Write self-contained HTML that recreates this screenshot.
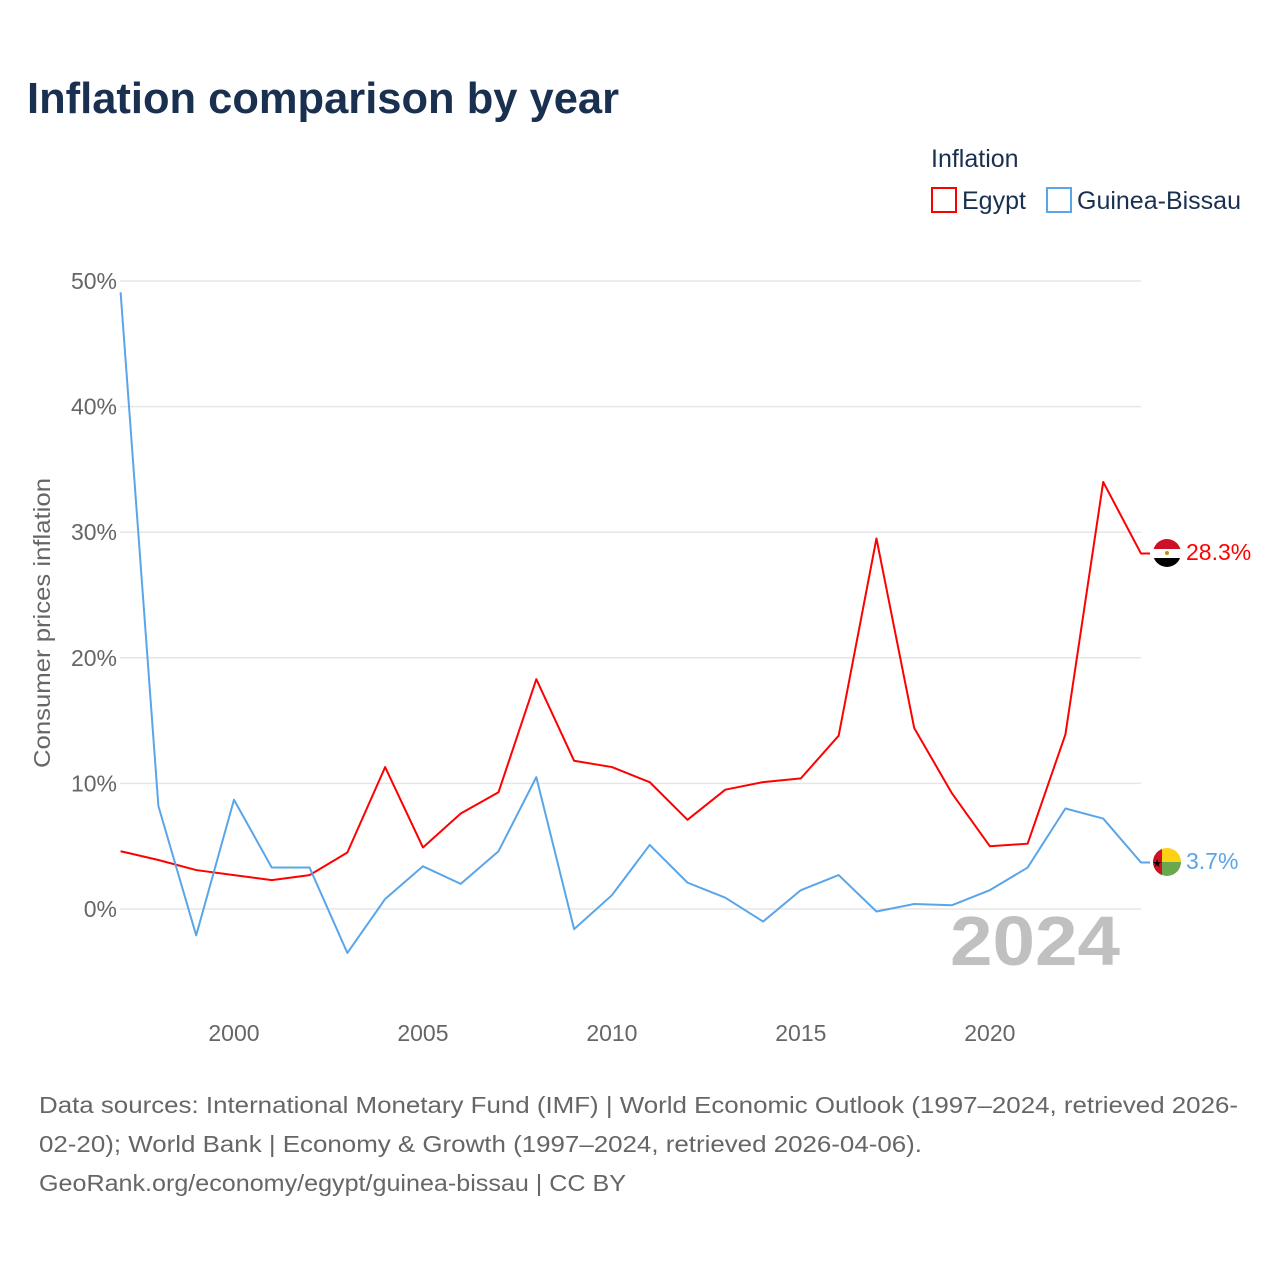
<!DOCTYPE html>
<html><head><meta charset="utf-8"><style>
body{margin:0;background:#fff;width:1280px;height:1280px;overflow:hidden;font-family:"Liberation Sans",sans-serif}
</style></head><body>
<svg width="1280" height="1280" style="position:absolute;left:0;top:0">
<text x="27" y="113" font-size="44" font-weight="bold" fill="#1a3050" textLength="592" lengthAdjust="spacingAndGlyphs">Inflation comparison by year</text>
<text x="931" y="167" font-size="25" fill="#1a3050">Inflation</text>
<g><rect x="932" y="188" width="24" height="24" fill="none" stroke="#f00" stroke-width="2"/><text x="962" y="209" font-size="25" fill="#1a3050">Egypt</text></g>
<g><rect x="1047" y="188" width="24" height="24" fill="none" stroke="#5aa5ea" stroke-width="2"/><text x="1077" y="209" font-size="25" fill="#1a3050">Guinea-Bissau</text></g>
<g id="grid"></g><g id="yt"></g><g id="xt"></g>
<text transform="translate(50,623) rotate(-90)" text-anchor="middle" font-size="23" fill="#666" textLength="290" lengthAdjust="spacingAndGlyphs">Consumer prices inflation</text>
<text x="950" y="965" font-size="70" font-weight="bold" fill="#c0c0c0" textLength="170" lengthAdjust="spacingAndGlyphs">2024</text>
<g id="lines"></g>
<g><clipPath id="c1"><circle cx="1167" cy="553" r="14"/></clipPath><g clip-path="url(#c1)"><rect x="1150" y="539" width="34" height="10" fill="#ce1126"/><rect x="1150" y="549" width="34" height="9" fill="#fff"/><rect x="1150" y="558" width="34" height="10" fill="#000"/><circle cx="1167" cy="553" r="2" fill="#c09300"/></g></g>
<g><clipPath id="c2"><circle cx="1167" cy="862" r="14"/></clipPath><g clip-path="url(#c2)"><rect x="1150" y="848" width="34" height="14" fill="#fcd116"/><rect x="1150" y="862" width="34" height="14" fill="#6aa84f"/><rect x="1150" y="848" width="12" height="28" fill="#ce1126"/><text x="1157" y="867" font-size="11" text-anchor="middle">★</text></g></g>
<text x="1186" y="560" font-size="23" fill="#f00">28.3%</text>
<text x="1186" y="869" font-size="23" fill="#5aa5ea">3.7%</text>
<g font-size="23" fill="#666">
<text x="39" y="1113" textLength="1199" lengthAdjust="spacingAndGlyphs">Data sources: International Monetary Fund (IMF) | World Economic Outlook (1997–2024, retrieved 2026-</text>
<text x="39" y="1152" textLength="883" lengthAdjust="spacingAndGlyphs">02-20); World Bank | Economy &amp; Growth (1997–2024, retrieved 2026-04-06).</text>
<text x="39" y="1191" textLength="587" lengthAdjust="spacingAndGlyphs">GeoRank.org/economy/egypt/guinea-bissau | CC BY</text></g>
</svg>
<script>
const years=[1997,1998,1999,2000,2001,2002,2003,2004,2005,2006,2007,2008,2009,2010,2011,2012,2013,2014,2015,2016,2017,2018,2019,2020,2021,2022,2023,2024];
const egypt=[4.6,3.9,3.1,2.7,2.3,2.7,4.5,11.3,4.9,7.6,9.3,18.3,11.8,11.3,10.1,7.1,9.5,10.1,10.4,13.8,29.5,14.4,9.2,5.0,5.2,13.9,34.0,28.3];
const guinea=[49.1,8.2,-2.1,8.7,3.3,3.3,-3.5,0.8,3.4,2.0,4.6,10.5,-1.6,1.1,5.1,2.1,0.9,-1.0,1.5,2.7,-0.2,0.4,0.3,1.5,3.3,8.0,7.2,3.7];
const yTicks=[0,10,20,30,40,50];
const xTicks=[2000,2005,2010,2015,2020];
const NS='http://www.w3.org/2000/svg';
const X=y=>120.6+(y-1997)*(1141-120.6)/27;
const Y=v=>909-v*12.56;
function mk(t,a,p){const e=document.createElementNS(NS,t);for(const k in a)e.setAttribute(k,a[k]);p.appendChild(e);return e;}
const g=document.getElementById('grid'),yt=document.getElementById('yt'),xt=document.getElementById('xt'),L=document.getElementById('lines');
yTicks.forEach(v=>{const l=mk('line',{x1:120,x2:1141,y1:Y(v),y2:Y(v),stroke:'#e6e6e6','stroke-width':1.5},g);


const t=mk('text',{x:117,y:Y(v)+8,'text-anchor':'end','font-size':23,fill:'#666'},yt);t.textContent=v+'%';

});
xTicks.forEach(v=>{const t=mk('text',{x:X(v),y:1041,'text-anchor':'middle','font-size':23,fill:'#666'},xt);t.textContent=v;

});
function line(d,c,n){const pts=d.map((v,i)=>X(years[i])+','+Y(v));const last=d[d.length-1];pts.push((X(2024)+9)+','+Y(last));
const p=mk('polyline',{points:pts.join(' '),fill:'none',stroke:c,'stroke-width':2,'stroke-linejoin':'round'},L);

}
line(egypt,'#f00','egypt-line');
line(guinea,'#5aa5ea','guinea-bissau-line');
</script>
</body></html>
